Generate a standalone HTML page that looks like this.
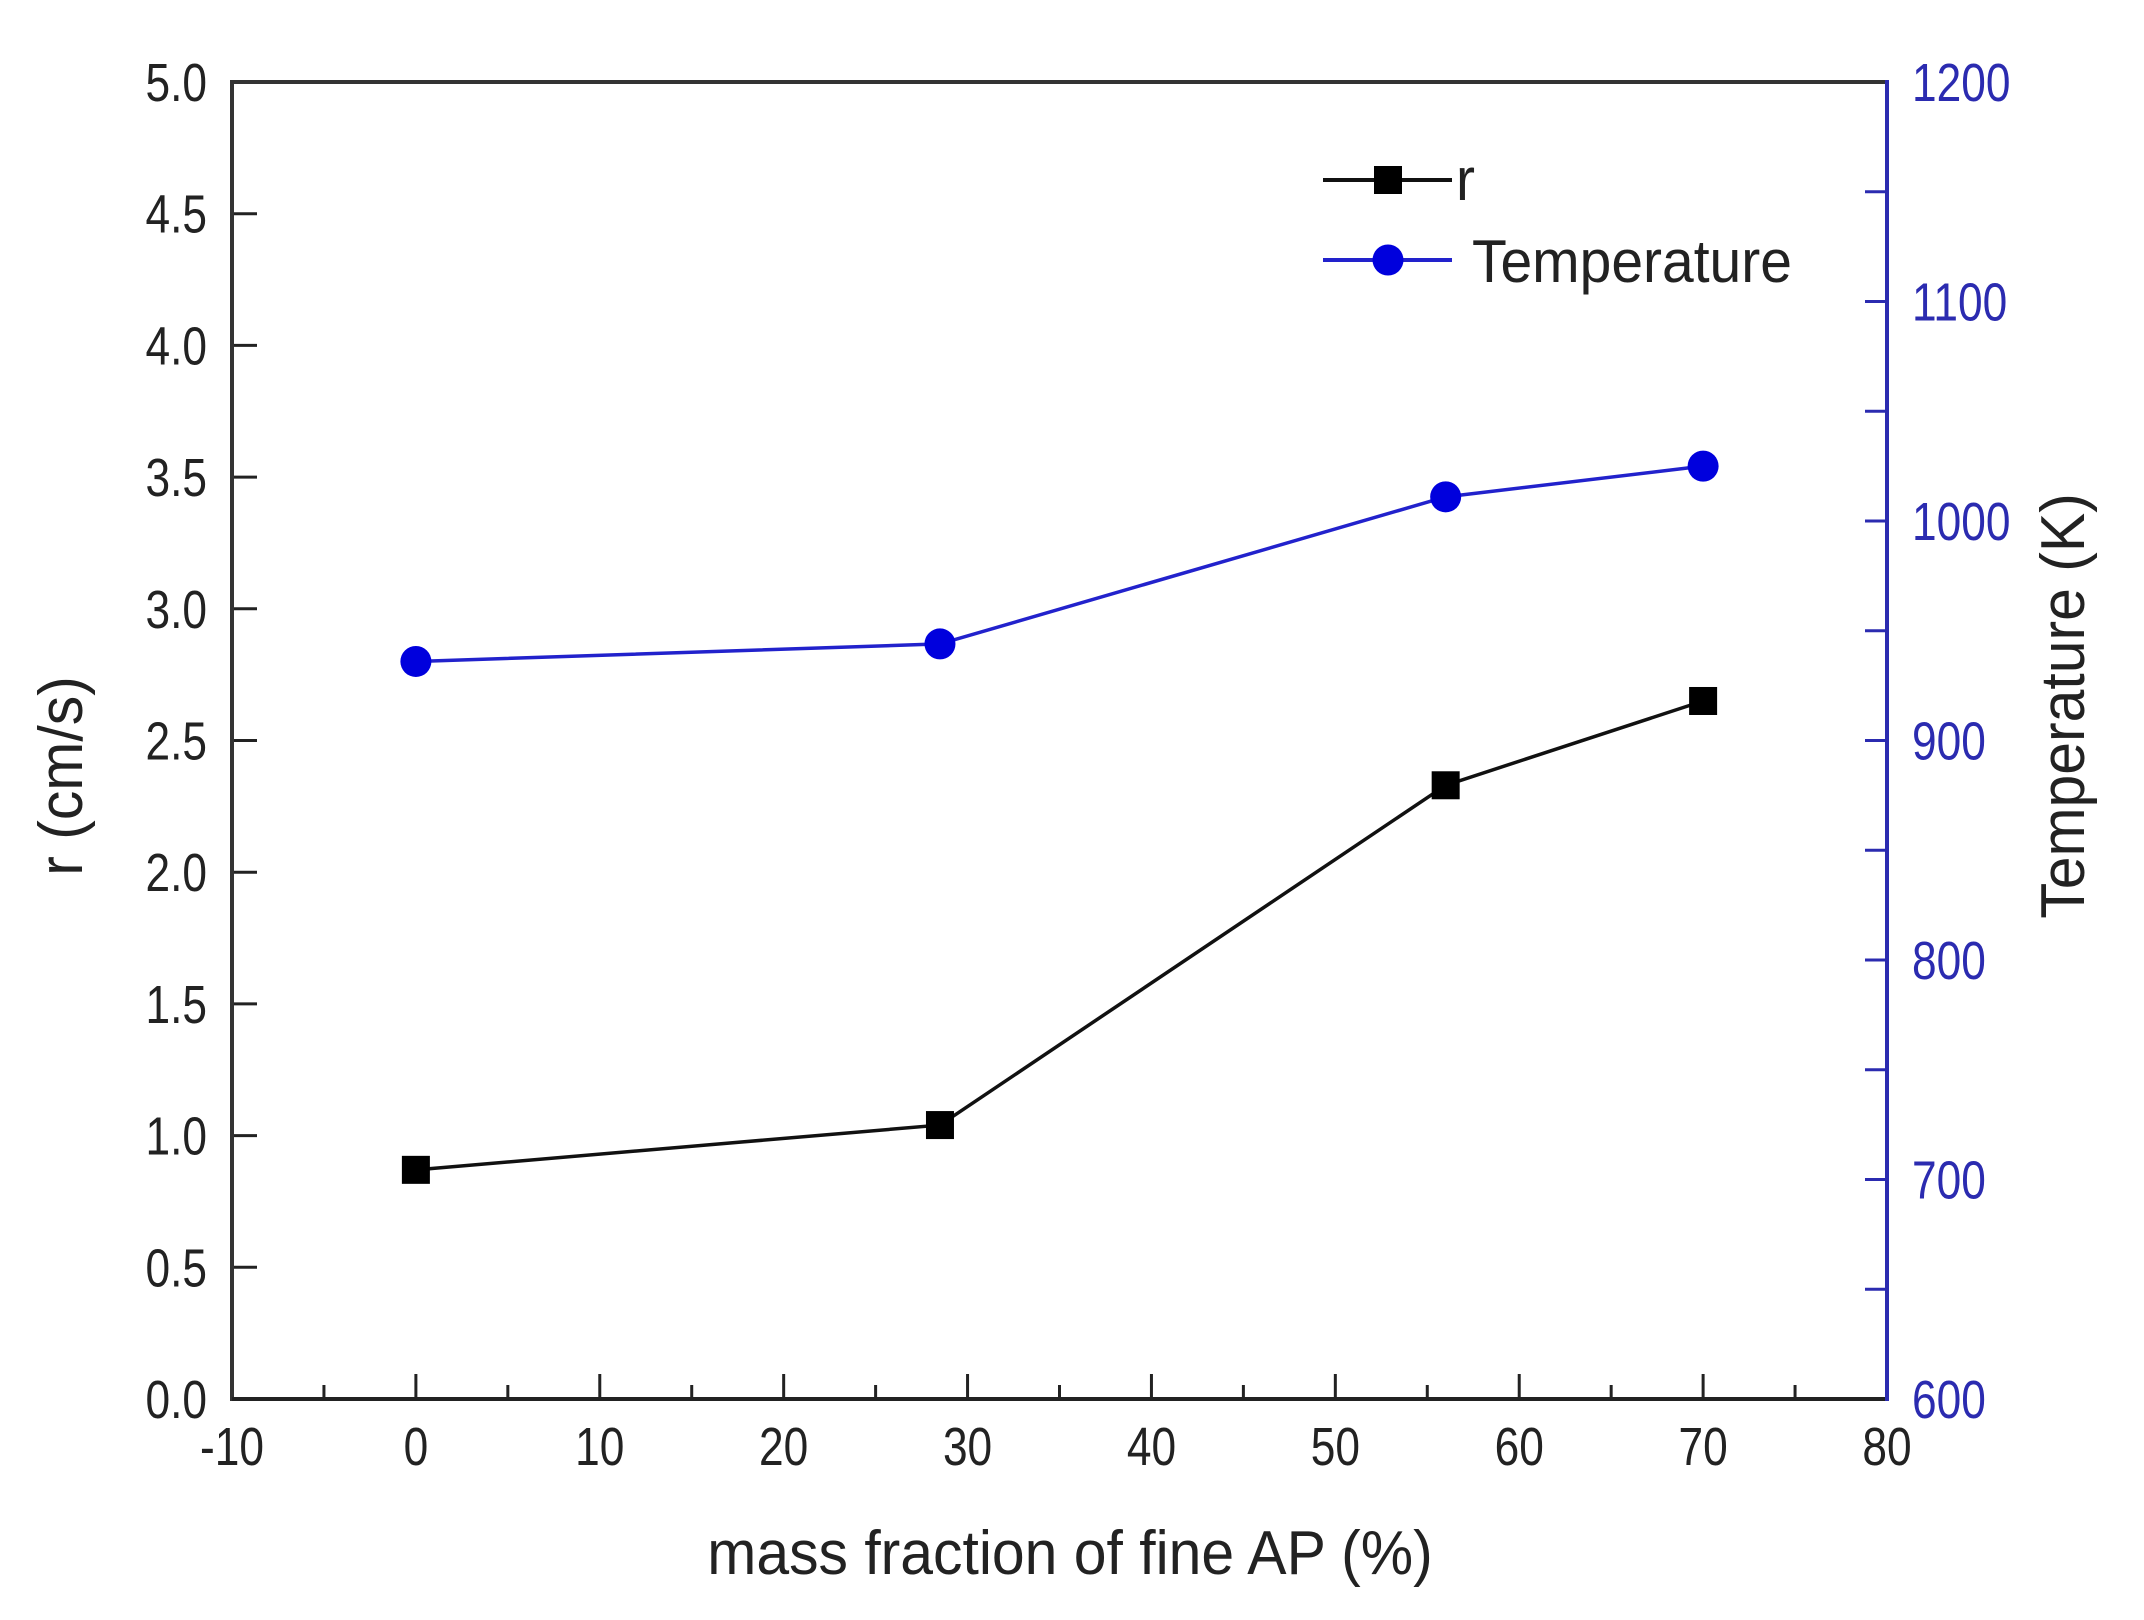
<!DOCTYPE html>
<html><head><meta charset="utf-8"><style>
html,body{margin:0;padding:0;background:#fff;}
svg{display:block;}
text{font-family:"Liberation Sans",Arial,sans-serif;}
</style></head><body>
<svg id="chart" width="2144" height="1620" viewBox="0 0 2144 1620" xmlns="http://www.w3.org/2000/svg">
<g id="g"></g>
</svg>
<script>
const xVals = [0, 28.5, 56, 70];
const rVals = [0.87, 1.04, 2.33, 2.65];
const tVals = [936, 944, 1011, 1025];
const xTicks = [-10, 0, 10, 20, 30, 40, 50, 60, 70, 80];
const yTicks = [0, 0.5, 1, 1.5, 2, 2.5, 3, 3.5, 4, 4.5, 5];
const y2Ticks = [600, 700, 800, 900, 1000, 1100, 1200];

const L=232, R=1887, T=82, B=1399;
const sx = v => L + (v + 10) / 90 * (R - L);
const sy = v => B - v / 5 * (B - T);
const sy2 = v => B - (v - 600) / 600 * (B - T);
const NS = "http://www.w3.org/2000/svg";
const g = document.getElementById('g');
function mk(tag, attrs, txt){const e=document.createElementNS(NS,tag);for(const k in attrs)e.setAttribute(k,attrs[k]);if(txt!==undefined)e.textContent=txt;g.appendChild(e);return e;}
function txt(x,y,anchor,size,fill,str,rot,sc){
  const s = sc || 0.82;
  const tr = rot ? `translate(${x},${y}) rotate(-90) scale(${s},1)` : `translate(${x},${y}) scale(${s},1)`;
  return mk('text',{x:0,y:0,'text-anchor':anchor,'font-size':size,fill:fill,transform:tr},str);
}
const blue="#2b2bb0";

xTicks.forEach((v,i)=>{
  const x=sx(v);
  const t=mk('line',{x1:x,y1:B,x2:x,y2:B-25,stroke:'#222','stroke-width':3});
  
  
  const lb=txt(x,B+66,'middle',54,'#222',String(v));
  
  
  if(i<xTicks.length-1){
    const xm=sx(v+5);
    const m=mk('line',{x1:xm,y1:B,x2:xm,y2:B-14,stroke:'#222','stroke-width':3});
    
    
  }
});
yTicks.forEach(v=>{
  const y=sy(v);
  const t=mk('line',{x1:L,y1:y,x2:L+25,y2:y,stroke:'#222','stroke-width':3});
  
  
  const lb=txt(207,y+19,'end',54,'#222',v.toFixed(1));
  
  
});
y2Ticks.forEach((v,i)=>{
  const y=sy2(v);
  const t=mk('line',{x1:R,y1:y,x2:R-22,y2:y,stroke:blue,'stroke-width':3});
  
  
  const lb=txt(1912,y+19,'start',54,blue,String(v));
  
  
  if(i<y2Ticks.length-1){
    const ym=sy2(v+50);
    const m=mk('line',{x1:R,y1:ym,x2:R-22,y2:ym,stroke:blue,'stroke-width':3});
    
    
  }
});
const top_=mk('line',{x1:L,y1:T,x2:R,y2:T,stroke:'#333','stroke-width':4});


const la=mk('line',{x1:L,y1:T-2,x2:L,y2:B+2,stroke:'#333','stroke-width':4});


const ba=mk('line',{x1:L,y1:B,x2:R,y2:B,stroke:'#222','stroke-width':4});


const ra=mk('line',{x1:R,y1:T-2,x2:R,y2:B+2,stroke:blue,'stroke-width':4});



const rl=mk('polyline',{points:xVals.map((x,i)=>sx(x)+','+sy(rVals[i])).join(' '),fill:'none',stroke:'#111','stroke-width':3.5});


const tl=mk('polyline',{points:xVals.map((x,i)=>sx(x)+','+sy2(tVals[i])).join(' '),fill:'none',stroke:'#2222cc','stroke-width':3.5});


xVals.forEach((x,i)=>{
  const s=mk('rect',{x:sx(x)-14,y:sy(rVals[i])-14,width:28,height:28,fill:'#000'});
  
  
  const c=mk('circle',{cx:sx(x),cy:sy2(tVals[i]),r:15.5,fill:'#0000dd'});
  
  
});

const l1=mk('line',{x1:1323,y1:180,x2:1452,y2:180,stroke:'#111','stroke-width':4});


const l1m=mk('rect',{x:1374,y:166,width:28,height:28,fill:'#000'});


const l1t=txt(1456,200,'start',60,'#222','r',false,0.95);


const l2=mk('line',{x1:1323,y1:260,x2:1452,y2:260,stroke:'#2222cc','stroke-width':4});


const l2m=mk('circle',{cx:1388,cy:260,r:15.5,fill:'#0000dd'});


const l2t=txt(1472,282,'start',60,'#222','Temperature',false,0.95);



const xt=txt(1070,1574,'middle',62,'#222','mass fraction of fine AP (%)',false,0.95);


const yt=txt(82,776,'middle',62,'#222','r (cm/s)',true,0.95);


const y2t=txt(2084,706,'middle',62,'#222','Temperature (K)',true,0.95);


</script>
</body></html>
